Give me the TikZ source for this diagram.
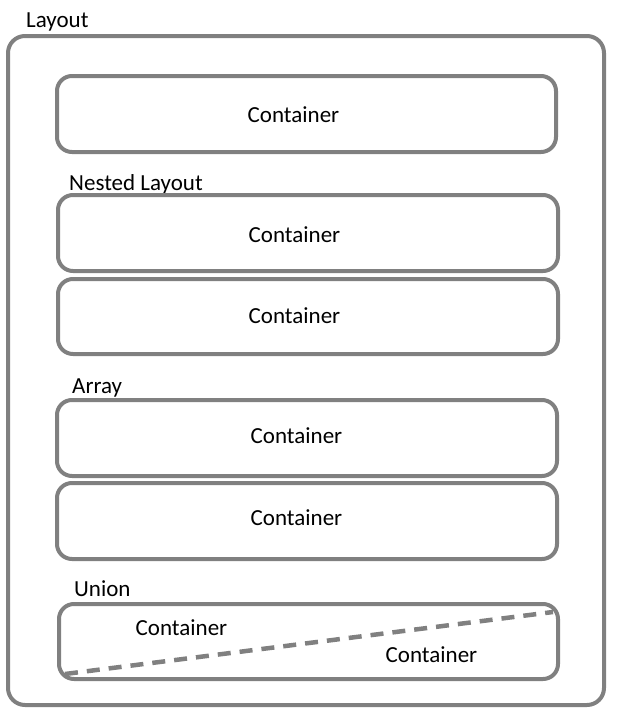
\documentclass[tikz,border=0pt]{standalone}
\usepackage{fontspec}
\setmainfont{Carlito}
\usepackage{xcolor}
\usetikzlibrary{positioning}
\definecolor{framegray}{RGB}{128,128,128}
\tikzset{
    frame/.style={draw=framegray, line width=4pt, rounded corners=15pt, inner sep=0pt},
    lbl/.style={inner sep=0pt, font=\fontsize{23}{27}\selectfont},
    split/.style={draw=framegray, line width=4.5pt, dash pattern=on 13pt off 9pt}
}
\begin{document}
\begin{tikzpicture}[x=1pt, y=-1pt]
        \useasboundingbox (0,0) rectangle (616,715);
        % outer layout
        \node[frame, rounded corners=17pt, minimum width=596pt, minimum height=669pt] (layout) at (306,370.5) {};
        \node[lbl, anchor=base west] (layoutlbl) at (26,27) {Layout};
        % single container
        \node[frame, minimum width=499pt, minimum height=76pt] (cont) at (306.5,114) {};
        \node[lbl, anchor=base] (contlbl) at (293.5,122) {Container};
        % nested layout
        \node[lbl, anchor=base west] (nestlbl) at (69,190) {Nested Layout};
        \node[frame, minimum width=500pt, minimum height=76pt] (nestA) at (308,233) {};
        \node[frame, minimum width=500pt, minimum height=75pt] (nestB) at (308,316.5) {};
        \node[lbl, anchor=base] (nestAlbl) at (294.5,242) {Container};
        \node[lbl, anchor=base] (nestBlbl) at (294.5,323) {Container};
        % array
        \node[lbl, anchor=base west] (arrlbl) at (72,393) {Array};
        \node[frame, minimum width=500pt, minimum height=76pt] (arrA) at (307,438) {};
        \node[frame, minimum width=500pt, minimum height=76pt] (arrB) at (307,521) {};
        \node[lbl, anchor=base] (arrAlbl) at (296.5,443) {Container};
        \node[lbl, anchor=base] (arrBlbl) at (296.5,525) {Container};
        % union
        \node[lbl, anchor=base west] (unilbl) at (74,596) {Union};
        \node[frame, minimum width=499pt, minimum height=75pt] (uni) at (308.5,641.5) {};
        \coordinate (U1) at (65,674);
        \coordinate (U2) at (553,612);
        \draw[split] (U1) -- (U2);
        \node[lbl, anchor=base] (uniAlbl) at (181.5,635) {Container};
        \node[lbl, anchor=base] (uniBlbl) at (431.5,662) {Container};
\end{tikzpicture}
\end{document}
